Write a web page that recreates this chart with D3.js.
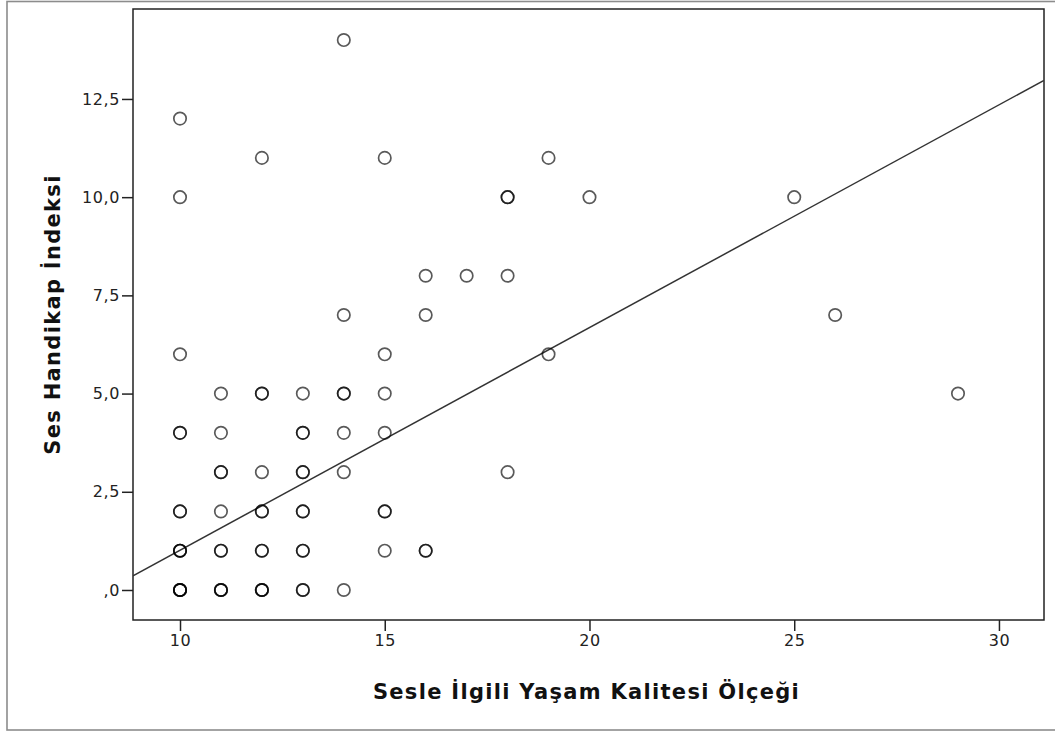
<!DOCTYPE html>
<html>
<head>
<meta charset="utf-8">
<script src="https://cdn.jsdelivr.net/npm/d3@7"></script>
<style>
  body { margin: 0; background: #fff; }
  svg { display: block; }
</style>
</head>
<body>
<div id="rootDiv"></div>
<script>
// Sesle Ilgili Yasam Kalitesi (x) vs Ses Handikap Indeksi (y); repeated pairs overlap
const sqolScores = [
    10, 10, 10, 10, 11, 11, 11, 12, 12, 12, 13, 13, 14,
    10, 10, 10, 11, 11, 12, 12, 13, 13, 15, 16, 16,
    10, 10, 11, 12, 12, 13, 13, 15, 15,
    11, 11, 12, 13, 13, 14, 18,
    10, 10, 11, 13, 13, 14, 15,
    11, 12, 12, 13, 14, 14, 15, 29,
    10, 15, 19,
    14, 16, 26,
    16, 17, 18,
    10, 18, 18, 20, 25,
    12, 15, 19,
    10,
    14
]
const shiScores = [
    0, 0, 0, 0, 0, 0, 0, 0, 0, 0, 0, 0, 0,
    1, 1, 1, 1, 1, 1, 1, 1, 1, 1, 1, 1,
    2, 2, 2, 2, 2, 2, 2, 2, 2,
    3, 3, 3, 3, 3, 3, 3,
    4, 4, 4, 4, 4, 4, 4,
    5, 5, 5, 5, 5, 5, 5, 5,
    6, 6, 6,
    7, 7, 7,
    8, 8, 8,
    10, 10, 10, 10, 10,
    11, 11, 11,
    12,
    14
]
const xTicks = [10, 15, 20, 25, 30]
const yTicks = [0, 2.5, 5, 7.5, 10, 12.5]
const fitLine = [-4.66, 0.567] // intercept, slope
const xTitle = "Sesle İlgili Yaşam Kalitesi Ölçeği"
const yTitle = "Ses Handikap İndeksi"

// Dimensions
const W = 1055, H = 731
const margin = { top: 9, left: 133, right: 11, bottom: 111 }
const width = W - margin.left - margin.right
const height = H - margin.top - margin.bottom

const x = d3.scaleLinear().domain([8.852, 31.1]).range([0, width])
const y = d3.scaleLinear().domain([-0.764, 14.79]).range([height, 0])

function commaFormat(d) {
    let s = d.toFixed(1).replace('.', ',')
    if (s.startsWith('0,')) s = s.slice(1)
    return s
}

const svgBase = d3.select('#rootDiv')
    .append('svg')
    .attr('width', W)
    .attr('height', H)

// outer frame
svgBase.append('rect')
    .attr('x', 7).attr('y', 1.5)
    .attr('width', 1200).attr('height', 728.5)
    .attr('fill', 'none')
    .attr('stroke', '#8c8c8c')
    .attr('stroke-width', 1.6)

const svg = svgBase.append('g').attr('transform', `translate(${margin.left},${margin.top})`)

svg.append('clipPath').attr('id', 'plotClip')
    .append('rect').attr('width', width).attr('height', height)

// axes
const xAxis = svg.append('g')
    .attr('transform', `translate(0,${height})`)
    .call(d3.axisBottom(x).tickValues(xTicks).tickSize(11).tickPadding(4).tickFormat(d3.format('d')))
const yAxis = svg.append('g')
    .call(d3.axisLeft(y).tickValues(yTicks).tickSize(11).tickPadding(2).tickFormat(commaFormat))

for (const axis of [xAxis, yAxis]) {
    axis.select('.domain').remove()
    axis.selectAll('line').style('stroke', '#222').style('stroke-width', 1.5)
    axis.selectAll('text')
        .style('fill', '#222')
        .style('font-family', '"DejaVu Sans", sans-serif')
        .style('font-size', '16px')
        .style('letter-spacing', '0.6px')
}

// plot frame
svg.append('rect')
    .attr('width', width).attr('height', height)
    .attr('fill', 'none')
    .attr('stroke', '#222')
    .attr('stroke-width', 1.5)

// fit line
const xs = x.domain()
svg.append('path')
    .attr('clip-path', 'url(#plotClip)')
    .attr('d', d3.line()(xs.map(v => [x(v), y(fitLine[0] + fitLine[1] * v)])))
    .attr('fill', 'none')
    .attr('stroke', '#333')
    .attr('stroke-width', 1.5)

// points
svg.append('g')
    .selectAll('circle')
    .data(sqolScores.map((v, i) => [v, shiScores[i]]))
    .enter()
    .append('circle')
    .attr('cx', d => x(d[0]))
    .attr('cy', d => y(d[1]))
    .attr('r', 6.2)
    .attr('fill', 'none')
    .attr('stroke', '#000')
    .attr('stroke-opacity', 0.65)
    .attr('stroke-width', 1.7)

// titles
svgBase.append('text')
    .attr('x', margin.left + width / 2 - 2)
    .attr('y', 699)
    .attr('text-anchor', 'middle')
    .style('font-family', '"DejaVu Sans", sans-serif')
    .style('font-weight', 'bold')
    .style('font-size', '21px')
    .style('letter-spacing', '1.3px')
    .attr('fill', '#111')
    .text(xTitle)

svgBase.append('text')
    .attr('transform', `translate(60,${margin.top + height / 2}) rotate(-90)`)
    .attr('text-anchor', 'middle')
    .style('font-family', '"DejaVu Sans", sans-serif')
    .style('font-weight', 'bold')
    .style('font-size', '21px')
    .style('letter-spacing', '1.3px')
    .attr('fill', '#111')
    .text(yTitle)
</script>
</body>
</html>
